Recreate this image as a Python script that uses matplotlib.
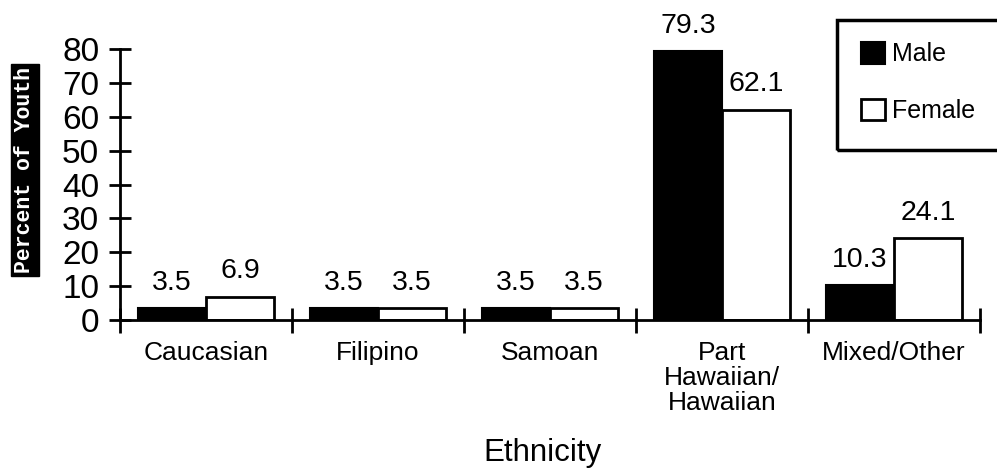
import numpy as np
import matplotlib
matplotlib.use("Agg")
import matplotlib.pyplot as plt
from matplotlib.patches import Rectangle

plt.rcParams['font.family'] = ['Liberation Sans', 'DejaVu Sans']

# data
categories = ['Caucasian', 'Filipino', 'Samoan', 'Part\nHawaiian/\nHawaiian', 'Mixed/Other']
series = ['Male', 'Female']
male = [3.5, 3.5, 3.5, 79.3, 10.3]
female = [6.9, 3.5, 3.5, 62.1, 24.1]
yticks = [0, 10, 20, 30, 40, 50, 60, 70, 80]

W, H = 997, 473
fig = plt.figure(figsize=(W / 100, H / 100), dpi=100)
ax = fig.add_axes([120 / W, 1 - 320 / H, 860 / W, 271 / H])

x = np.arange(len(categories))
w = 0.395
bm = ax.bar(x - w / 2, male, w, color='black', edgecolor='black', lw=1.5, label=series[0])
bf = ax.bar(x + w / 2, female, w, color='white', edgecolor='black', lw=2, label=series[1])

ax.bar_label(bm, labels=[f'{v:.1f}' for v in male], padding=9, fontsize=20.5)
ax.bar_label(bf, labels=[f'{v:.1f}' for v in female], padding=9, fontsize=20.5)

ax.set_xlim(-0.5, len(categories) - 0.5)
ax.set_ylim(0, 80)

for s in ['top', 'right']:
    ax.spines[s].set_visible(False)
for s in ['left', 'bottom']:
    ax.spines[s].set_linewidth(2)

# boundary ticks on x, labels centred under each group
ax.set_xticks(np.arange(-0.5, len(categories), 1))
ax.set_xticklabels([])
ax.set_xticks(x, categories, minor=True, fontsize=19, linespacing=1.05, va='top')
ax.tick_params(axis='x', which='major', direction='inout', length=18, width=2)
ax.tick_params(axis='x', which='minor', length=0, pad=15)

ax.set_yticks(yticks)
ax.tick_params(axis='y', direction='inout', length=16, width=2, labelsize=24, pad=7)

fig.text(542 / W, 1 - 453 / H, 'Ethnicity', fontsize=22.5, ha='center', va='center')

fig.text(25 / W, 1 - 170 / H, 'Percent of Youth', rotation=90, ha='center', va='center',
         family='Liberation Mono', weight='bold', fontsize=15.5, color='white',
         bbox=dict(boxstyle='square,pad=0.15', facecolor='black', edgecolor='black'))

# legend, framed box running off the right edge
leg = ax.legend(handles=[bm, bf], loc='upper left', frameon=False, fontsize=18,
                handlelength=0.95, handleheight=0.95, handletextpad=0.3,
                labelspacing=1.3, borderpad=0, borderaxespad=0,
                bbox_to_anchor=(861 / W, 1 - 42 / H), bbox_transform=fig.transFigure)
fig.patches.append(Rectangle((837 / W, 1 - 150 / H), 0.2, 130 / H, transform=fig.transFigure,
                             fill=False, lw=2.5, edgecolor='black'))

fig.savefig('out.png', dpi=100)
